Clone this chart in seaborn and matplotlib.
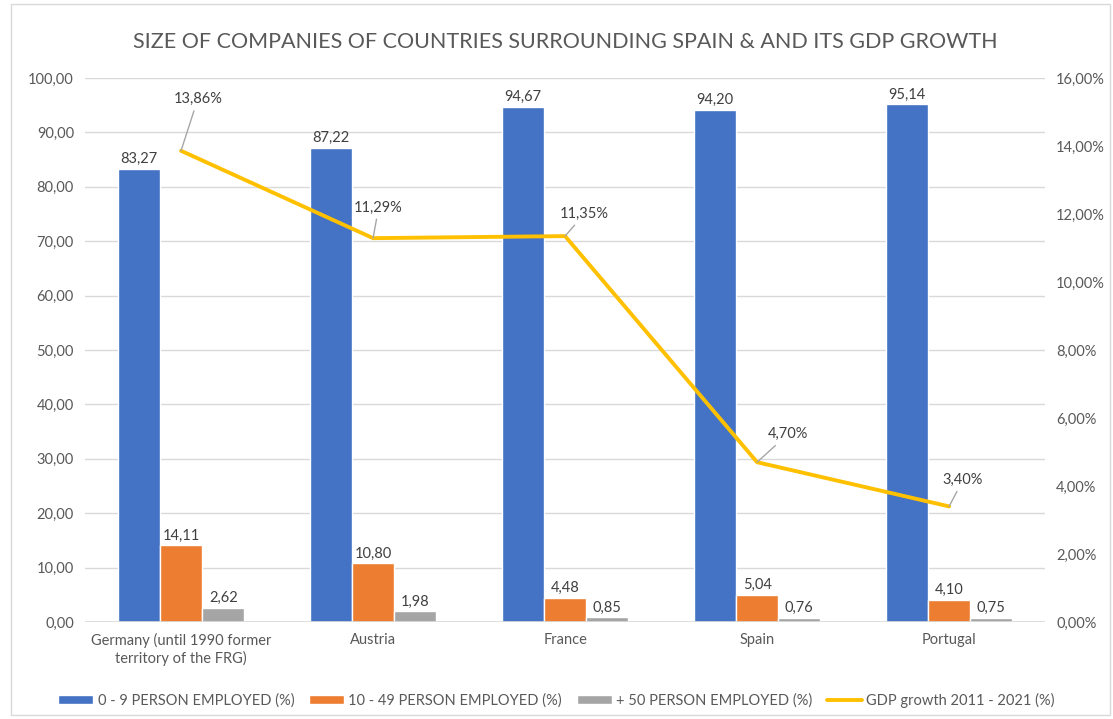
import matplotlib.pyplot as plt
import matplotlib.patches as mpatches
import seaborn as sns
import pandas as pd

countries = ['Germany (until 1990 former\nterritory of the FRG)', 'Austria', 'France', 'Spain', 'Portugal']
size_groups = ['0 - 9 PERSON EMPLOYED (%)', '10 - 49 PERSON EMPLOYED (%)', '+ 50 PERSON EMPLOYED (%)']
small = [83.27, 87.22, 94.67, 94.20, 95.14]
medium = [14.11, 10.80, 4.48, 5.04, 4.10]
large = [2.62, 1.98, 0.85, 0.76, 0.75]
gdp = [13.86, 11.29, 11.35, 4.70, 3.40]
gdp_label = 'GDP growth 2011 - 2021 (%)'

bar_colors = ['#4472C4', '#ED7D31', '#A5A5A5']
line_color = '#FFC000'
text_color = '#595959'
label_color = '#404040'
# offsets (points) of the gdp labels from their points
gdp_offsets = [(12, 32), (4, 17), (14, 11), (22, 15), (10, 14)]

sns.set_theme(style='white')
plt.rcParams['font.family'] = ['Lato', 'DejaVu Sans']

df = pd.DataFrame({
    'country': countries * 3,
    'size': [s for s in size_groups for _ in countries],
    'value': small + medium + large,
})

fig = plt.figure(figsize=(11.13, 7.19), dpi=100)
ax = fig.add_axes([0.0764, 0.1349, 0.8626, 0.7566])

sns.barplot(data=df, x='country', y='value', hue='size', palette=bar_colors,
            saturation=1, width=0.66, ax=ax, legend=True)

def comma(v, nd=2):
    return f'{v:.{nd}f}'.replace('.', ',')

for cont in ax.containers:
    ax.bar_label(cont, labels=[comma(b.get_height()) for b in cont],
                 padding=2, color=label_color, fontsize=10.5)

ax.set_ylim(0, 100)
ax.set_yticks(range(0, 101, 10))
ax.set_yticklabels([comma(v) for v in range(0, 101, 10)], color=text_color, fontsize=10.5)
ax.set_xlabel('')
ax.set_ylabel('')
ax.tick_params(axis='x', colors=text_color, labelsize=10.5, length=0, pad=8)
ax.tick_params(axis='y', length=0, pad=8)
ax.grid(axis='y', color='#D9D9D9', linewidth=1)
ax.set_axisbelow(True)
for s in ax.spines.values():
    s.set_visible(False)
ax.axhline(0, color='#D9D9D9', linewidth=1.2)

ax2 = ax.twinx()
sns.lineplot(x=list(range(len(countries))), y=gdp, color=line_color, linewidth=2.8,
             ax=ax2, label=gdp_label, sort=False)
ax2.set_ylim(0, 16)
ax2.set_yticks(range(0, 17, 2))
ax2.set_yticklabels([comma(v) + '%' for v in range(0, 17, 2)], color=text_color, fontsize=10.5)
ax2.tick_params(axis='y', length=0, pad=8)
for s in ax2.spines.values():
    s.set_visible(False)
ax.set_xlim(-0.5, len(countries) - 0.5)

for i, (v, off) in enumerate(zip(gdp, gdp_offsets)):
    ax2.annotate(comma(v) + '%', xy=(i, v), xytext=off, textcoords='offset points',
                 ha='center', va='bottom', color=label_color, fontsize=10.5,
                 arrowprops=dict(arrowstyle='-', color='#A6A6A6', lw=1,
                                 shrinkA=1, shrinkB=0))

h1, l1 = ax.get_legend_handles_labels()
h2, l2 = ax2.get_legend_handles_labels()
ax.get_legend().remove()
if ax2.get_legend():
    ax2.get_legend().remove()
fig.legend(h1 + h2, l1 + l2, loc='center', bbox_to_anchor=(0.5, 0.026), ncol=4,
           frameon=False, fontsize=10.5, labelcolor=text_color,
           handlelength=2.4, handleheight=0.6, handletextpad=0.3, columnspacing=1.0)

fig.suptitle('SIZE OF COMPANIES OF COUNTRIES SURROUNDING SPAIN & AND ITS GDP GROWTH',
             x=0.508, y=0.955, fontsize=15.5, color=text_color)

fig.patches.append(mpatches.Rectangle((0.01, 0.005), 0.987, 0.99, transform=fig.transFigure,
                                      fill=False, edgecolor='#D9D9D9', linewidth=1))

fig.savefig('out.png', dpi=100)
